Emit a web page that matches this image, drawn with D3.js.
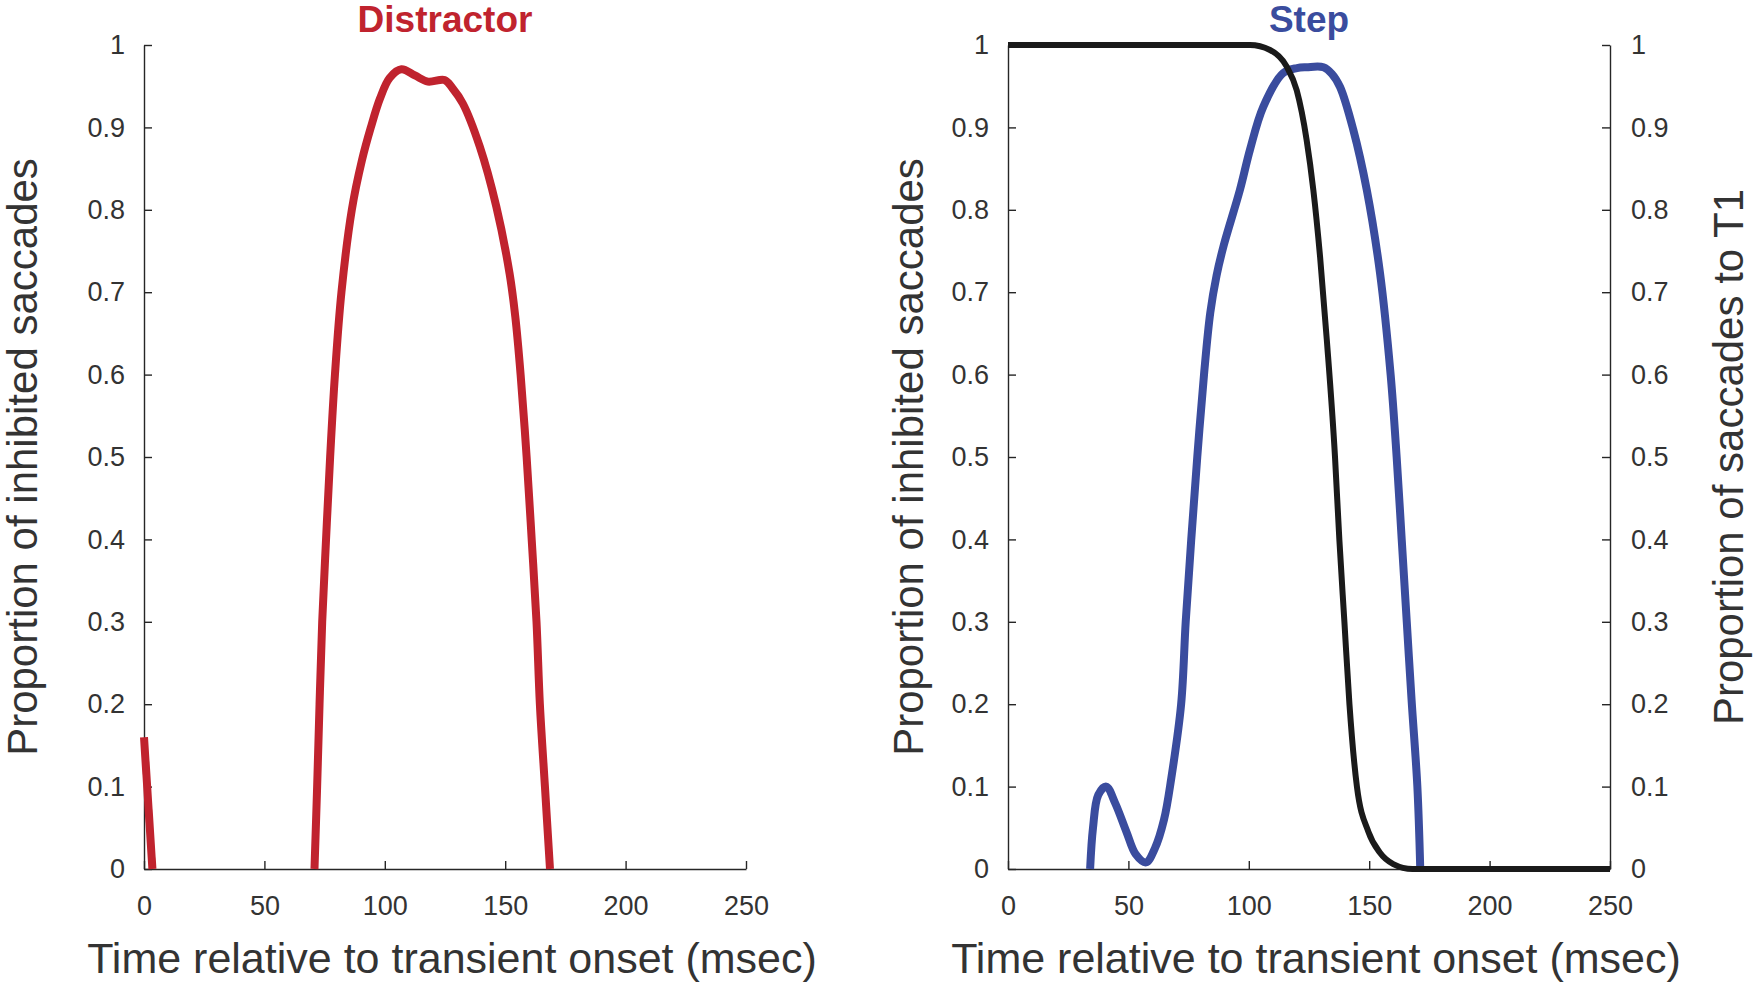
<!DOCTYPE html>
<html>
<head>
<meta charset="utf-8">
<script src="https://cdn.jsdelivr.net/npm/d3@7"></script>
<style>
  html, body { margin: 0; padding: 0; background: #fff; }
  svg { display: block; }
  text { font-family: "Liberation Sans", Arial, Helvetica, sans-serif; }
</style>
</head>
<body>
<svg id="chart" width="1753" height="983"></svg>
<script>
// ---------------- data ----------------
const panelTitles = ["Distractor", "Step"];
const xLabel = "Time relative to transient onset (msec)";
const yLabelLeft = "Proportion of inhibited saccades";
const yLabelRight = "Proportion of saccades to T1";

const xTicks = [0, 50, 100, 150, 200, 250];
const yTicks = [0, 0.1, 0.2, 0.3, 0.4, 0.5, 0.6, 0.7, 0.8, 0.9, 1];
const yTickLabels = ["0", "0.1", "0.2", "0.3", "0.4", "0.5", "0.6", "0.7", "0.8", "0.9", "1"];

// Distractor: proportion of inhibited saccades (two separate pieces)
const distractorSeg1 = [[0, 0.16], [3.5, 0]];
const distractorSeg2 = [
  [70.8, 0], [71.9, 0.1], [72.9, 0.2], [74.0, 0.3], [75.6, 0.4], [77.3, 0.5],
  [79.3, 0.6], [82, 0.7], [86.3, 0.8], [90.5, 0.86], [94.2, 0.9],
  [98, 0.935], [102, 0.96], [106.9, 0.9705], [112.5, 0.963], [117.9, 0.9555],
  [124.8, 0.9575], [128, 0.948], [132.4, 0.929], [139.4, 0.877], [146.3, 0.804],
  [151.8, 0.723], [154.2, 0.67], [156.4, 0.6], [158.9, 0.5], [161, 0.4], [163, 0.3],
  [164.4, 0.2], [166.5, 0.1], [168.6, 0]
];

// Step: proportion of inhibited saccades (blue)
const stepInhibited = [
  [34.1, 0], [35.3, 0.05], [37.5, 0.09], [40.8, 0.1], [44.5, 0.08], [49.2, 0.045],
  [53, 0.018], [57.3, 0.008], [61, 0.025], [64.8, 0.06], [67.8, 0.11], [71.9, 0.2],
  [73.8, 0.3], [76.1, 0.4], [78.6, 0.5], [81.4, 0.6], [84, 0.675], [86.6, 0.72],
  [89.6, 0.757], [96.3, 0.824], [100.5, 0.873], [106, 0.925], [114.3, 0.966], [120, 0.972],
  [124, 0.973], [131, 0.973], [134.5, 0.965], [137.9, 0.949], [143.4, 0.897],
  [149, 0.824], [154.5, 0.723], [158.9, 0.6], [161.4, 0.5],
  [163.5, 0.4], [165.6, 0.3], [167.6, 0.205], [170, 0.1], [171.2, 0]
];

// Step: proportion of saccades to T1 (black, right axis)
const stepToT1 = [
  [0, 1], [60, 1], [100.5, 1], [108.8, 0.994], [115.7, 0.974], [119.9, 0.945], [124, 0.885],
  [126.8, 0.824], [129.6, 0.743], [132.4, 0.642], [135.8, 0.5],
  [137.6, 0.4], [139.7, 0.3], [141.8, 0.2], [144.9, 0.1], [149.7, 0.045],
  [154.4, 0.02], [160, 0.006], [168, 0], [200, 0], [250, 0]
];

// ---------------- drawing ----------------
const svg = d3.select("#chart");
const AX = "#262626", TXT = "#333333";
const RED = "#C0232E", BLUE = "#3A4C9E", BLACK = "#1a1a1a";

const y = d3.scaleLinear().domain([0, 1]).range([869, 45]);
const xL = d3.scaleLinear().domain([0, 250]).range([144, 746]);
const xR = d3.scaleLinear().domain([0, 250]).range([1008, 1610]);

function styleAxis(g, fontSize) {
  g.select(".domain").attr("stroke", AX).attr("stroke-width", 1.4);
  g.selectAll(".tick line").attr("stroke", AX).attr("stroke-width", 1.4);
  g.selectAll(".tick text").attr("fill", TXT).attr("font-size", fontSize)
    .attr("font-family", '"Liberation Sans", Arial, Helvetica, sans-serif');
}
const yFmt = d => yTickLabels[yTicks.indexOf(d)];

function drawPanel(x, opts) {
  const gx = svg.append("g").attr("transform", `translate(0,${y(0)})`)
    .call(d3.axisBottom(x).tickValues(xTicks).tickFormat(d3.format("d"))
      .tickSizeInner(-8).tickSizeOuter(0).tickPadding(27));
  styleAxis(gx, 27);

  const gy = svg.append("g").attr("transform", `translate(${x(0)},0)`)
    .call(d3.axisLeft(y).tickValues(yTicks).tickFormat(yFmt)
      .tickSizeInner(-8).tickSizeOuter(0).tickPadding(19));
  styleAxis(gy, 27);

  if (opts.rightAxis) {
    const gr = svg.append("g").attr("transform", `translate(${x(250)},0)`)
      .call(d3.axisRight(y).tickValues(yTicks).tickFormat(yFmt)
        .tickSizeInner(-8).tickSizeOuter(0).tickPadding(21));
    styleAxis(gr, 27);
  }

  const cx = (x(0) + x(250)) / 2;
  svg.append("text").attr("x", cx).attr("y", 32).attr("text-anchor", "middle")
    .attr("font-size", 37).attr("font-weight", "bold").attr("fill", opts.titleColor)
    .text(opts.title);

  svg.append("text").attr("x", cx + 7).attr("y", 973).attr("text-anchor", "middle")
    .attr("font-size", 43).attr("fill", TXT).text(xLabel);

  const cy = (y(0) + y(1)) / 2;
  svg.append("text").attr("transform", `translate(${opts.yLabelX},${cy}) rotate(-90)`)
    .attr("text-anchor", "middle").attr("font-size", 42).attr("fill", TXT)
    .text(yLabelLeft);

  if (opts.rightAxis) {
    svg.append("text").attr("transform", `translate(${opts.yLabelRX},${cy}) rotate(-90)`)
      .attr("text-anchor", "middle").attr("font-size", 42).attr("fill", TXT)
      .text(yLabelRight);
  }
}

drawPanel(xL, { title: panelTitles[0], titleColor: RED, yLabelX: 37 });
drawPanel(xR, { title: panelTitles[1], titleColor: BLUE, yLabelX: 923, rightAxis: true, yLabelRX: 1743 });

function drawLine(data, x, color, width, curve) {
  const line = d3.line().x(d => x(d[0])).y(d => y(d[1])).curve(curve);
  svg.append("path").datum(data).attr("d", line)
    .attr("fill", "none").attr("stroke", color).attr("stroke-width", width)
    .attr("stroke-linejoin", "round").attr("stroke-linecap", "butt");
}

const smooth = d3.curveCatmullRom.alpha(0.5);
drawLine(distractorSeg1, xL, RED, 8, d3.curveLinear);
drawLine(distractorSeg2, xL, RED, 8, smooth);
drawLine(stepInhibited, xR, BLUE, 8, smooth);
drawLine(stepToT1, xR, BLACK, 6, d3.curveMonotoneX);
</script>
</body>
</html>
